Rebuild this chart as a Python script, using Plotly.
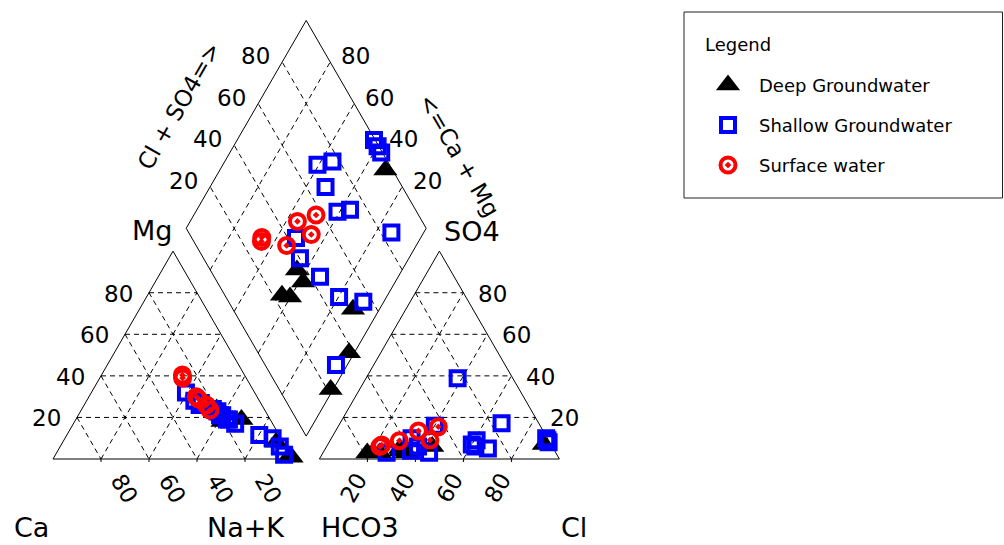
import numpy as np
import plotly.graph_objects as go

# ---------------- data (percent of meq/L) ----------------
deep_ca   = [12.0, 19.8, 20.4, 21.0, 19.2, 3.0, 0.7, 0.2]
deep_mg   = [19.0, 24.0, 18.0, 23.0, 21.0, 8.0, 1.5, 0.8]
deep_nak  = [69.0, 56.2, 61.6, 56.0, 59.8, 89.0, 97.8, 99.0]
deep_hco3 = [3.0, 63.9, 64.2, 76.2, 73.3, 50.0, 62.1, 78.6]
deep_so4  = [7.0, 5.0, 4.0, 3.0, 3.0, 6.0, 3.0, 2.9]
deep_cl   = [90.0, 31.1, 31.8, 20.8, 23.7, 44.0, 34.9, 18.5]

shal_ca   = [20.0, 19.0, 18.0, 28.6, 27.1, 24.9, 19.9, 17.2, 3.5, 25.9, 21.4, 15.6, 8.3, 2.5, 2.7]
shal_mg   = [23.0, 21.0, 19.0, 32.0, 28.0, 27.0, 21.0, 19.0, 10.0, 26.0, 24.0, 17.0, 11.5, 6.0, 2.0]
shal_nak  = [57.0, 60.0, 63.0, 39.4, 44.9, 48.1, 59.1, 63.8, 86.5, 48.1, 54.6, 67.4, 80.2, 91.5, 95.3]
shal_hco3 = [0.5, 0.5, 0.5, 30.0, 23.0, 32.0, 33.0, 27.3, 15.5, 56.6, 59.8, 55.9, 52.8, 43.9, 70.5]
shal_so4  = [9.0, 8.0, 10.0, 9.0, 38.8, 6.0, 7.0, 5.0, 17.2, 10.0, 4.0, 6.0, 3.0, 16.0, 3.0]
shal_cl   = [90.5, 91.5, 89.5, 61.0, 38.2, 62.0, 60.0, 67.7, 67.3, 33.4, 36.2, 38.1, 44.2, 40.1, 26.5]

surf_ca   = [25.9, 26.5, 25.0, 25.3, 23.1, 22.8]
surf_mg   = [40.4, 39.0, 29.0, 30.0, 26.0, 23.6]
surf_nak  = [33.7, 34.5, 46.0, 44.7, 50.9, 53.6]
surf_hco3 = [70.7, 71.8, 62.3, 52.0, 42.7, 49.4]
surf_so4  = [6.7, 6.0, 8.8, 13.5, 15.5, 9.1]
surf_cl   = [22.6, 22.2, 28.9, 34.5, 41.8, 41.5]

group_names = ["Deep Groundwater", "Shallow Groundwater", "Surface water"]
tick_values = [20, 40, 60, 80]

# ---------------- geometry ----------------
H = np.sqrt(3) / 2
GAP = 11.0            # gap between triangles (percent units)
PX = 2.4              # pixels per percent unit
OX, OY = 53.0, 459.0  # pixel position of the Ca corner
W, HT = 1004, 545


def p2d(xp, yp):
    return (xp - OX) / PX, (OY - yp) / PX


def norm3(a, b, c):
    a, b, c = (np.asarray(v, dtype=float) for v in (a, b, c))
    t = a + b + c
    return 100 * a / t, 100 * b / t, 100 * c / t


def cation_xy(ca, mg, na):
    return na + mg / 2.0, mg * H


def anion_xy(hco3, so4, cl):
    return 100 + GAP + cl + so4 / 2.0, so4 * H


def diamond_xy(camg, clso4):
    return 100 + GAP / 2 + 0.5 * (clso4 - camg), GAP * H + H * (clso4 + camg)


fig = go.Figure()


def add_segments(segs, dash=None, width=1):
    xs, ys = [], []
    for (a, b) in segs:
        xs += [a[0], b[0], None]
        ys += [a[1], b[1], None]
    fig.add_trace(go.Scatter(x=xs, y=ys, mode="lines", hoverinfo="skip",
                             line=dict(color="black", width=width, dash=dash),
                             showlegend=False))


# grid lines
grid = []
for v in tick_values:
    grid.append((cation_xy(100 - v, v, 0), cation_xy(0, v, 100 - v)))
    grid.append((cation_xy(100 - v, 0, v), cation_xy(0, 100 - v, v)))
    grid.append((cation_xy(v, 100 - v, 0), cation_xy(v, 0, 100 - v)))
    grid.append((anion_xy(100 - v, v, 0), anion_xy(0, v, 100 - v)))
    grid.append((anion_xy(100 - v, 0, v), anion_xy(0, 100 - v, v)))
    grid.append((anion_xy(v, 100 - v, 0), anion_xy(v, 0, 100 - v)))
    grid.append((diamond_xy(v, 0), diamond_xy(v, 100)))
    grid.append((diamond_xy(0, v), diamond_xy(100, v)))
add_segments(grid, dash="5px,4px", width=1)

# outlines
outl = []
tri_l = [cation_xy(100, 0, 0), cation_xy(0, 0, 100), cation_xy(0, 100, 0)]
tri_r = [anion_xy(100, 0, 0), anion_xy(0, 0, 100), anion_xy(0, 100, 0)]
dia = [diamond_xy(0, 0), diamond_xy(100, 0), diamond_xy(100, 100), diamond_xy(0, 100)]
for poly in (tri_l, tri_r, dia):
    for i in range(len(poly)):
        outl.append((poly[i], poly[(i + 1) % len(poly)]))
# small ticks on the bases
tk = 3.0 / PX
for v in tick_values:
    x, y = cation_xy(v, 0, 100 - v)
    outl.append(((x, y), (x, y - tk)))
    x, y = anion_xy(100 - v, 0, v)
    outl.append(((x, y), (x, y - tk)))
add_segments(outl, width=1)

# ---------------- data points ----------------
groups = [
    (deep_ca, deep_mg, deep_nak, deep_hco3, deep_so4, deep_cl),
    (shal_ca, shal_mg, shal_nak, shal_hco3, shal_so4, shal_cl),
    (surf_ca, surf_mg, surf_nak, surf_hco3, surf_so4, surf_cl),
]
markers = [
    dict(symbol="triangle-up", size=21, color="black", line=dict(width=0)),
    dict(symbol="square-open", size=14, color="#0000ff", line=dict(width=4, color="#0000ff")),
    dict(symbol="circle-open-dot", size=15, color="#ff0000", line=dict(width=4, color="#ff0000")),
]
for name, g, mk in zip(group_names, groups, markers):
    ca, mg, na = norm3(g[0], g[1], g[2])
    hc, so, cl = norm3(g[3], g[4], g[5])
    cx, cy = cation_xy(ca, mg, na)
    ax, ay = anion_xy(hc, so, cl)
    dx, dy = diamond_xy(ca + mg, so + cl)
    fig.add_trace(go.Scatter(x=np.concatenate([cx, ax, dx]),
                             y=np.concatenate([cy, ay, dy]),
                             mode="markers", name=name, marker=mk,
                             showlegend=False))

# ---------------- text ----------------
FONT = "DejaVu Sans"
ann = []


def txt(x, y, s, size, angle=0, xanchor="center"):
    ann.append(dict(x=x, y=y, xref="x", yref="y", text=s, showarrow=False,
                    textangle=angle, xanchor=xanchor, yanchor="middle",
                    font=dict(family=FONT, size=size, color="black")))


TS = 23
for v in tick_values:
    x, y = cation_xy(100 - v, v, 0)
    txt(x - 31 / PX, y - 1 / PX, str(v), TS)
    x, y = cation_xy(v, 0, 100 - v)
    txt(x + 23 / PX, y - 29 / PX, str(v), TS, angle=60)
    x, y = anion_xy(0, v, 100 - v)
    txt(x + 29 / PX, y - 1 / PX, str(v), TS)
    x, y = anion_xy(100 - v, 0, v)
    txt(x - 14 / PX, y - 29 / PX, str(v), TS, angle=-60)
    x, y = diamond_xy(100, v)
    txt(x - 27 / PX, y + 6 / PX, str(v), TS)
    x, y = diamond_xy(v, 100)
    txt(x + 25 / PX, y + 6 / PX, str(v), TS)

CS = 27
for s, (xp, yp) in [("Mg", (152, 230)), ("SO4", (472, 231)), ("Ca", (31, 527)),
                    ("Na+K", (246, 527)), ("HCO3", (360, 527)), ("Cl", (574, 527))]:
    x, y = p2d(xp, yp)
    txt(x, y, s, CS)

x, y = p2d(179, 106)
txt(x, y, "Cl + SO4=>", 23, angle=-60)
x, y = p2d(459, 155)
txt(x, y, "<=Ca + Mg", 23, angle=60)

# ---------------- legend (drawn manually) ----------------
LF = 18
shapes = [dict(type="rect", xref="x", yref="y",
               x0=p2d(684, 0)[0], x1=p2d(1002.5, 0)[0],
               y0=p2d(0, 198)[1], y1=p2d(0, 12)[1],
               line=dict(color="#222222", width=1), fillcolor="rgba(0,0,0,0)")]
x, y = p2d(703, 44)
txt(x, y, "Legend", LF, xanchor="left")
leg_rows = [85, 125, 165]
for name, mk, yp in zip(group_names, markers, leg_rows):
    mx, my = p2d(728, yp)
    fig.add_trace(go.Scatter(x=[mx], y=[my], mode="markers", marker=mk,
                             showlegend=False, hoverinfo="skip"))
    tx, ty = p2d(757, yp)
    txt(tx, ty, name, LF, xanchor="left")

x0, _ = p2d(0, 0)
x1, _ = p2d(W, 0)
_, y1 = p2d(0, 0)
_, y0 = p2d(0, HT)
fig.update_layout(
    width=W, height=HT, margin=dict(l=0, r=0, t=0, b=0),
    paper_bgcolor="white", plot_bgcolor="white", showlegend=False,
    xaxis=dict(range=[x0, x1], visible=False, fixedrange=True),
    yaxis=dict(range=[y0, y1], visible=False, fixedrange=True),
    annotations=ann, shapes=shapes,
)
fig.write_html("out.html", config={"displayModeBar": False},
               post_script="document.body.style.margin='0';"
                           "document.body.style.overflow='hidden';")
